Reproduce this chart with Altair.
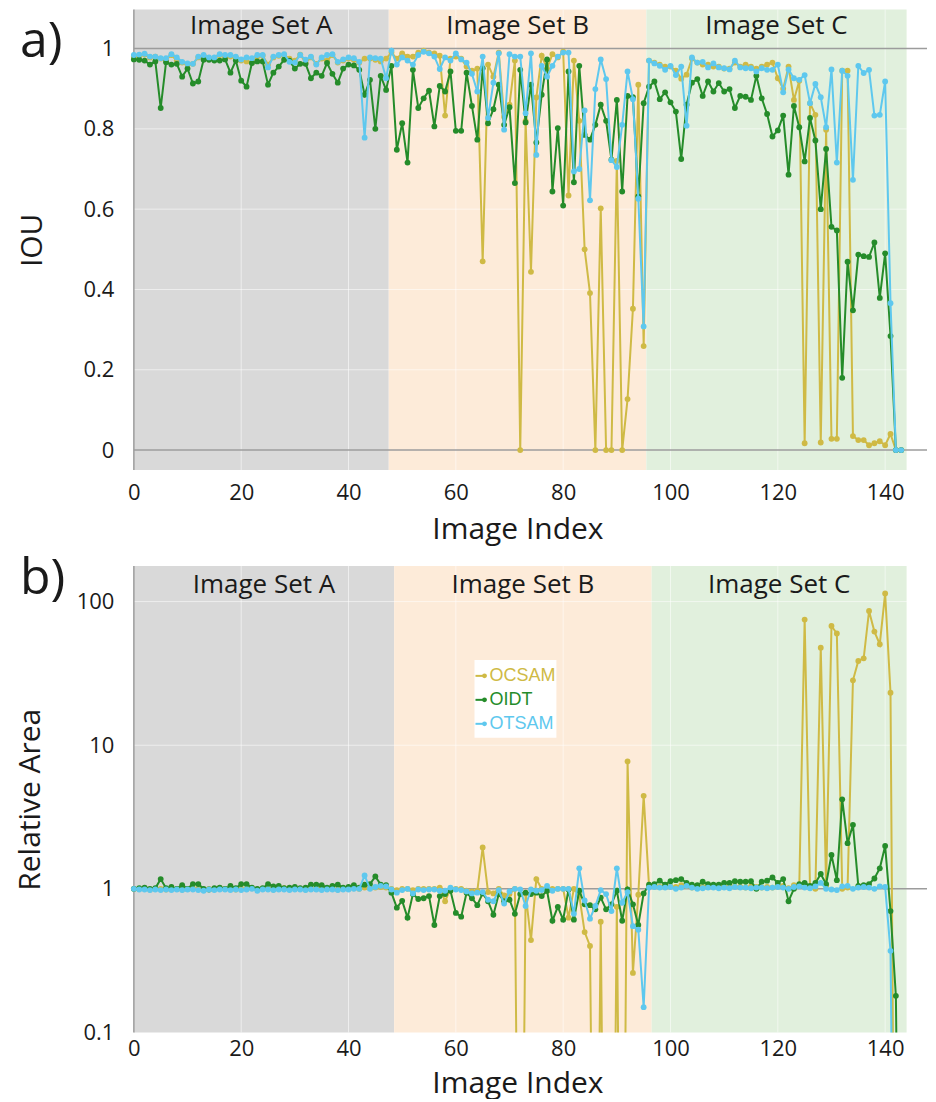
import altair as alt
import pandas as pd

# ---------------- data ----------------
idx = list(range(144))
series_names = ["OCSAM", "OIDT", "OTSAM"]
series_colors = ["#cfba45", "#258c2a", "#5ec8ee"]

iou_ocsam = [
    0.980, 0.982, 0.985, 0.978, 0.980, 0.975, 0.972, 0.984, 0.970, 0.965, 0.960, 0.962,
    0.978, 0.982, 0.975, 0.975, 0.984, 0.980, 0.980, 0.978, 0.970, 0.968, 0.965, 0.980,
    0.982, 0.960, 0.978, 0.982, 0.984, 0.975, 0.970, 0.985, 0.965, 0.978, 0.962, 0.975,
    0.970, 0.984, 0.965, 0.970, 0.975, 0.972, 0.965, 0.975, 0.975, 0.972, 0.968, 0.975,
    0.990, 0.975, 0.988, 0.980, 0.980, 0.990, 0.995, 0.990, 0.988, 0.982, 0.833, 0.975,
    0.980, 0.975, 0.955, 0.945, 0.950, 0.470, 0.960, 0.930, 0.990, 0.830, 0.860, 0.970,
    0.000, 0.820, 0.444, 0.878, 0.982, 0.950, 0.986, 0.978, 0.992, 0.634, 0.970, 0.820,
    0.500, 0.391, 0.000, 0.602, 0.000, 0.000, 0.720, 0.000, 0.127, 0.352, 0.910, 0.259,
    0.970, 0.965, 0.960, 0.955, 0.955, 0.945, 0.925, 0.935, 0.975, 0.965, 0.960, 0.960,
    0.955, 0.955, 0.950, 0.950, 0.965, 0.955, 0.960, 0.955, 0.950, 0.955, 0.960, 0.965,
    0.926, 0.900, 0.955, 0.872, 0.920, 0.017, 0.864, 0.835, 0.019, 0.798, 0.028, 0.028,
    0.945, 0.945, 0.035, 0.025, 0.025, 0.012, 0.017, 0.022, 0.012, 0.040, 0.000, 0.000,
]
iou_oidt = [
    0.973, 0.972, 0.970, 0.960, 0.968, 0.852, 0.966, 0.960, 0.962, 0.930, 0.950, 0.913,
    0.918, 0.972, 0.972, 0.970, 0.970, 0.973, 0.940, 0.970, 0.920, 0.905, 0.964, 0.968,
    0.968, 0.910, 0.940, 0.955, 0.972, 0.970, 0.950, 0.962, 0.962, 0.926, 0.940, 0.932,
    0.964, 0.937, 0.915, 0.950, 0.960, 0.958, 0.947, 0.885, 0.922, 0.800, 0.932, 0.897,
    0.957, 0.748, 0.814, 0.716, 0.947, 0.852, 0.876, 0.895, 0.806, 0.907, 0.893, 0.943,
    0.795, 0.795, 0.940, 0.857, 0.773, 0.951, 0.814, 0.849, 0.910, 0.810, 0.854, 0.665,
    0.947, 0.816, 0.910, 0.766, 0.885, 0.973, 0.644, 0.802, 0.609, 0.943, 0.667, 0.957,
    0.785, 0.773, 0.810, 0.860, 0.820, 0.723, 0.872, 0.644, 0.882, 0.879, 0.632, 0.864,
    0.905, 0.918, 0.874, 0.891, 0.866, 0.843, 0.725, 0.860, 0.915, 0.924, 0.882, 0.918,
    0.893, 0.914, 0.893, 0.899, 0.852, 0.882, 0.880, 0.872, 0.932, 0.876, 0.837, 0.781,
    0.796, 0.833, 0.686, 0.857, 0.804, 0.719, 0.827, 0.771, 0.600, 0.750, 0.556, 0.547,
    0.180, 0.469, 0.348, 0.487, 0.483, 0.481, 0.517, 0.379, 0.490, 0.284, 0.000, 0.000,
]
iou_otsam = [
    0.984, 0.985, 0.987, 0.980, 0.980, 0.976, 0.976, 0.986, 0.978, 0.967, 0.963, 0.962,
    0.980, 0.984, 0.978, 0.978, 0.986, 0.984, 0.984, 0.980, 0.973, 0.978, 0.976, 0.984,
    0.984, 0.953, 0.980, 0.984, 0.986, 0.967, 0.965, 0.984, 0.972, 0.980, 0.960, 0.978,
    0.984, 0.986, 0.967, 0.973, 0.978, 0.976, 0.967, 0.778, 0.978, 0.976, 0.975, 0.926,
    0.995, 0.960, 0.978, 0.970, 0.960, 0.984, 0.992, 0.988, 0.980, 0.949, 0.978, 0.970,
    0.988, 0.973, 0.965, 0.937, 0.893, 0.980, 0.827, 0.915, 0.988, 0.798, 0.986, 0.980,
    0.980, 0.839, 0.988, 0.735, 0.957, 0.930, 0.957, 0.980, 0.990, 0.990, 0.694, 0.700,
    0.846, 0.622, 0.899, 0.973, 0.924, 0.722, 0.705, 0.810, 0.943, 0.874, 0.626, 0.308,
    0.970, 0.963, 0.957, 0.947, 0.957, 0.934, 0.955, 0.808, 0.978, 0.965, 0.967, 0.953,
    0.963, 0.953, 0.951, 0.948, 0.970, 0.953, 0.951, 0.951, 0.943, 0.951, 0.947, 0.947,
    0.960, 0.891, 0.948, 0.926, 0.922, 0.934, 0.864, 0.912, 0.879, 0.804, 0.948, 0.716,
    0.945, 0.932, 0.673, 0.957, 0.939, 0.947, 0.833, 0.835, 0.918, 0.366, 0.000, 0.000,
]

area_ocsam = [
    1.00, 1.00, 1.01, 0.99, 1.00, 1.00, 0.99, 1.00, 1.00, 0.99, 1.00, 1.01,
    1.00, 0.99, 1.00, 1.00, 1.01, 1.00, 1.00, 0.99, 1.00, 1.00, 1.01, 0.99,
    1.00, 1.00, 0.99, 1.00, 1.01, 1.00, 1.00, 1.00, 0.99, 1.00, 1.00, 1.01,
    1.00, 1.00, 0.99, 1.00, 1.00, 1.01, 1.00, 1.02, 1.01, 1.02, 1.03, 1.02,
    1.00, 0.98, 1.00, 1.00, 0.98, 1.00, 1.00, 1.00, 1.00, 1.02, 0.82, 1.00,
    1.00, 1.00, 0.97, 0.96, 0.97, 1.94, 0.95, 0.93, 1.00, 0.90, 0.92, 1.00,
    0.0001, 0.93, 0.44, 1.17, 1.00, 0.97, 1.00, 1.00, 1.00, 0.63, 1.00, 0.90,
    0.50, 0.40, 0.0001, 0.59, 0.0001, 0.0001, 0.75, 0.0001, 7.70, 0.26, 0.91, 4.44,
    1.05, 1.04, 1.03, 1.03, 1.04, 1.03, 1.06, 1.05, 1.02, 1.03, 1.03, 1.03,
    1.04, 1.03, 1.03, 1.02, 1.04, 1.03, 1.02, 1.04, 1.03, 1.02, 1.03, 1.02,
    1.04, 1.05, 1.01, 1.06, 1.05, 75.0, 1.02, 1.00, 47.7, 1.05, 67.6, 60.0,
    1.00, 1.02, 28.3, 38.6, 40.3, 86.0, 61.8, 50.5, 114.0, 23.2, 0.0001, 0.0001,
]
area_oidt = [
    1.00, 1.01, 1.02, 1.00, 1.01, 1.17, 1.01, 1.03, 1.00, 1.06, 1.00, 1.08,
    1.08, 1.00, 0.99, 1.01, 1.02, 1.00, 1.05, 1.01, 1.08, 1.08, 1.02, 1.00,
    1.01, 1.08, 1.04, 1.05, 1.01, 1.02, 1.03, 1.01, 1.02, 1.07, 1.07, 1.06,
    1.02, 1.05, 1.07, 1.02, 1.03, 1.06, 1.02, 1.07, 1.08, 1.22, 1.07, 1.06,
    0.94, 0.74, 0.825, 0.63, 0.92, 0.85, 0.86, 0.89, 0.56, 0.89, 0.92, 0.97,
    0.68, 0.64, 0.94, 0.86, 0.77, 0.93, 0.82, 0.66, 0.92, 0.82, 0.84, 0.67,
    0.92, 0.94, 0.92, 0.94, 0.89, 0.97, 0.60, 0.75, 0.61, 0.99, 0.61, 0.97,
    0.78, 0.77, 0.72, 0.87, 0.72, 0.78, 0.97, 0.60, 0.99, 0.78, 0.56, 0.93,
    1.07, 1.08, 1.14, 1.07, 1.13, 1.15, 1.17, 1.10, 1.07, 1.06, 1.12, 1.08,
    1.07, 1.07, 1.10, 1.10, 1.13, 1.12, 1.12, 1.13, 1.00, 1.12, 1.14, 1.20,
    1.10, 1.17, 0.82, 1.00, 1.08, 1.10, 1.05, 1.10, 1.27, 1.08, 1.72, 1.15,
    4.20, 2.08, 2.79, 1.05, 1.06, 1.08, 1.18, 1.39, 1.99, 0.70, 0.18, 0.0001,
]
area_otsam = [
    1.00, 0.99, 0.99, 0.98, 0.99, 0.98, 0.99, 0.98, 0.99, 0.98, 0.99, 0.99,
    0.98, 0.97, 0.99, 0.98, 0.99, 0.99, 0.98, 0.99, 0.98, 0.99, 1.00, 0.97,
    0.99, 0.99, 0.98, 0.99, 0.99, 0.98, 0.99, 0.99, 0.98, 0.99, 0.99, 0.98,
    0.99, 0.99, 0.98, 0.99, 0.99, 1.00, 1.00, 1.24, 1.00, 1.03, 1.05, 1.04,
    0.99, 0.94, 0.98, 1.00, 0.93, 0.99, 0.98, 0.99, 0.99, 0.97, 0.97, 1.02,
    0.99, 0.98, 0.96, 0.93, 0.94, 0.95, 0.84, 0.82, 0.98, 0.79, 0.96, 1.00,
    0.99, 0.76, 0.99, 0.97, 0.98, 1.05, 0.97, 1.00, 1.00, 1.00, 0.67, 1.39,
    0.83, 0.62, 0.76, 0.98, 0.92, 0.70, 1.39, 0.80, 0.95, 0.55, 0.52, 0.15,
    1.02, 1.03, 1.02, 1.02, 1.03, 1.00, 1.02, 1.05, 1.02, 1.00, 1.01, 1.02,
    1.02, 1.01, 1.02, 1.01, 1.03, 1.02, 1.02, 1.01, 1.02, 1.02, 1.01, 1.02,
    1.03, 1.02, 1.00, 1.03, 1.04, 1.02, 1.01, 1.04, 1.10, 1.00, 0.99, 0.98,
    1.04, 1.05, 1.00, 1.02, 1.03, 1.02, 1.00, 1.04, 1.03, 0.37, 0.0001, 0.0001,
]

set_labels = ["Image Set A", "Image Set B", "Image Set C"]
set_fills = ["#d9d9d9", "#fdebd9", "#e1f0dd"]
top_set_start = [0, 47.5, 95.5]
top_set_end = [47.5, 95.5, 144]
bot_set_start = [0, 48.5, 96.5]
bot_set_end = [48.5, 96.5, 144]

x_ticks = [0, 20, 40, 60, 80, 100, 120, 140]
iou_ticks = [0, 0.2, 0.4, 0.6, 0.8, 1]
area_ticks = [0.1, 1, 10, 100]

# ---------------- layout constants ----------------
W = 794
H_TOP = 461
H_BOT = 467
FONT = "Open Sans"
TXT = "#1a1a1a"
TICK_FS = 22
TITLE_FS = 30

xscale = alt.Scale(domain=[0, 147.8], nice=False, zero=False)
top_yscale = alt.Scale(domain=[-0.0498, 1.097], nice=False, zero=False)
bot_yscale = alt.Scale(type="log", domain=[0.1, 177], nice=False)


def make_panel(vals, yscale, ytitle, yticks, grid_y, ref_y, set_start, set_end,
               height, label_y, letter, letter_y, xlab_pad, xtitle_y, ytitle_x,
               floor=None, legend=False):
    xaxis = alt.Axis(values=x_ticks, format="d", title="Image Index", grid=False,
                     ticks=False, domain=False, labelFont=FONT, labelFontSize=TICK_FS,
                     labelColor=TXT, labelPadding=xlab_pad, labelFlush=False,
                     titleFont=FONT,
                     titleFontSize=TITLE_FS, titleFontWeight="normal", titleColor=TXT,
                     titleX=384, titleY=xtitle_y, titleBaseline="alphabetic")
    yaxis = alt.Axis(values=yticks, format="~g", title=ytitle, grid=False,
                     ticks=False, domain=False, labelFont=FONT, labelFontSize=TICK_FS,
                     labelColor=TXT, labelPadding=20, labelFlush=False, titleFont=FONT,
                     titleFontSize=TITLE_FS, titleFontWeight="normal", titleColor=TXT,
                     titleX=ytitle_x, titleY=height / 2, titleAngle=270,
                     titleAlign="center", titleBaseline="alphabetic")

    def X(field):
        return alt.X(field, scale=xscale, axis=xaxis, title="Image Index")

    def Y(field):
        return alt.Y(field, scale=yscale, axis=yaxis, title=ytitle)

    sets_df = pd.DataFrame({
        "start": set_start, "end": set_end, "label": set_labels, "fill": set_fills,
        "mid": [(s + e) / 2 for s, e in zip(set_start, set_end)],
    })
    rects = alt.Chart(sets_df).mark_rect().encode(
        x=X("start:Q"), x2="end:Q",
        y=alt.value(0), y2=alt.value(height),
        fill=alt.Fill("fill:N", scale=None),
    )
    vgrid = alt.Chart(pd.DataFrame({"t": x_ticks[1:]})).mark_rule(
        color="white", strokeWidth=1, opacity=0.55).encode(
        x=X("t:Q"), y=alt.value(0), y2=alt.value(height))
    hgrid = alt.Chart(pd.DataFrame({"t": grid_y})).mark_rule(
        color="white", strokeWidth=1, opacity=0.55).encode(
        y=Y("t:Q"), x=alt.value(0), x2=alt.value(W))
    refh = alt.Chart(pd.DataFrame({"t": ref_y})).mark_rule(
        color="#9c9c9c", strokeWidth=1.5).encode(
        y=Y("t:Q"), x=alt.value(0), x2=alt.value(W))
    refv = alt.Chart(pd.DataFrame({"t": [0]})).mark_rule(
        color="#9c9c9c", strokeWidth=1.5).encode(
        x=X("t:Q"), y=alt.value(0), y2=alt.value(height))

    layers = [rects, vgrid, hgrid, refh, refv]
    for name, color, v in zip(series_names, series_colors, vals):
        df = pd.DataFrame({"idx": idx, "v": v, "series": name})
        line = alt.Chart(df).mark_line(color=color, strokeWidth=2, clip=True).encode(
            x=X("idx:Q"), y=Y("v:Q"))
        pts = alt.Chart(df).mark_circle(color=color, size=34, opacity=1).encode(
            x=X("idx:Q"), y=Y("v:Q"))
        if floor is not None:
            pts = pts.transform_filter(alt.datum.v >= floor)
        layers += [line, pts]

    labels = alt.Chart(sets_df).mark_text(font=FONT, fontSize=26, color=TXT,
                                          baseline="middle").encode(
        x=X("mid:Q"), y=alt.value(label_y), text="label:N")
    letter_layer = alt.Chart(pd.DataFrame({"t": [letter]})).mark_text(
        font=FONT, fontSize=50, align="left", baseline="alphabetic", color=TXT).encode(
        x=alt.value(-114), y=alt.value(letter_y), text="t:N")
    layers += [labels, letter_layer]

    if legend:
        box = alt.Chart(pd.DataFrame({"t": [0]})).mark_rect(color="white").encode(
            x=alt.value(341), x2=alt.value(423), y=alt.value(94), y2=alt.value(172))
        layers.append(box)
        for k, (name, color) in enumerate(zip(series_names, series_colors)):
            yy = 110 + 24 * k
            one = pd.DataFrame({"t": [name]})
            layers.append(alt.Chart(one).mark_rule(color=color, strokeWidth=2).encode(
                x=alt.value(342), x2=alt.value(353), y=alt.value(yy)))
            layers.append(alt.Chart(one).mark_circle(color=color, size=22, opacity=1).encode(
                x=alt.value(351), y=alt.value(yy)))
            layers.append(alt.Chart(one).mark_text(
                font="Liberation Sans", fontSize=18, align="left", baseline="middle",
                color=color).encode(x=alt.value(356), y=alt.value(yy), text="t:N"))

    return alt.layer(*layers).properties(width=W, height=height)


top = make_panel([iou_ocsam, iou_oidt, iou_otsam], top_yscale, "IOU", iou_ticks,
                 [0.2, 0.4, 0.6, 0.8], [0, 1], top_set_start, top_set_end,
                 H_TOP, 16, "a)", 47, 12, 68, -92)
bot = make_panel([area_ocsam, area_oidt, area_otsam], bot_yscale, "Relative Area",
                 area_ticks, [10, 100], [1], bot_set_start, bot_set_end,
                 H_BOT, 19, "b)", 28, 6, 60, -94, floor=0.1, legend=True)

chart = alt.vconcat(top, bot, spacing=96, bounds="flush").properties(
    padding={"left": 8, "top": 0, "right": 0, "bottom": 0}
).configure_view(stroke=None)

chart.save("out.html", embed_options={"renderer": "svg", "actions": False})
